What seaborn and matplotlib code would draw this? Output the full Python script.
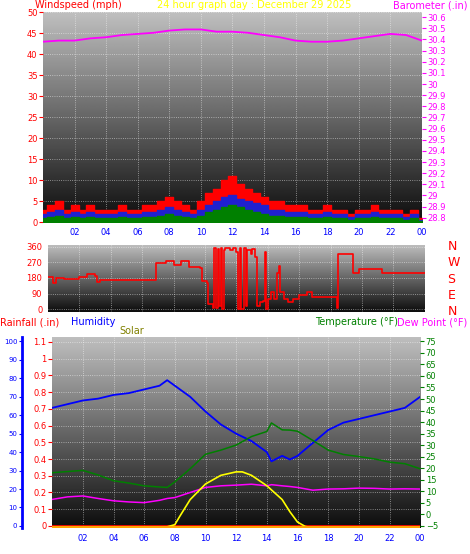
import numpy as np
import pandas as pd
import matplotlib
matplotlib.use("Agg")
import matplotlib.pyplot as plt
import seaborn as sns

sns.set_style("white")
plt.rcParams['font.family'] = ['DejaVu Sans']

hour_ticks = [2, 4, 6, 8, 10, 12, 14, 16, 18, 20, 22, 24]
hour_labels = ["02", "04", "06", "08", "10", "12", "14", "16", "18", "20", "22", "00"]

# Wind speed (mph), half-hour
wind_t = [i * 0.5 for i in range(49)]
gust = [3,4,5,3,4,3,4,3,3,3,4,3,3,4,4,5,6,5,4,3,5,7,8,10,11,9,8,7,6,5,5,4,4,4,3,3,4,3,3,2,3,3,4,3,3,3,2,3,1]
avg = [2,2.5,3,2,2.5,2,2.5,2,2,2,2.5,2,2,2.5,2.5,3,3.5,3,2.5,2,3,4,5,6,6.5,5.5,5,4.5,4,3,3,2.5,2.5,2.5,2,2,2.5,2,2,1.2,2,2,2.5,2,2,2,1.2,2,0.5]
lull = [1,1.2,1.5,1,1.2,1,1.2,1,1,1,1.2,1,1,1.2,1.2,1.5,2,1.5,1.2,1,1.5,2.5,3,3.5,4,3.5,3,2.5,2,1.5,1.5,1.2,1.2,1.2,1,1,1.2,1,1,0.5,1,1,1.2,1,1,1,0.5,1,0.2]

# Barometer (in), hourly
baro_t = list(range(25))
baro = [30.38,30.39,30.39,30.41,30.42,30.44,30.45,30.46,30.48,30.49,30.49,30.47,30.47,30.46,30.44,30.42,30.39,30.38,30.38,30.39,30.41,30.43,30.45,30.44,30.39]

# Wind direction (deg)
dir_t = [0,0.3,0.5,1,2,2.5,3,3.1,3.3,6.8,6.9,7.5,8,8.5,9,9.7,9.8,10.1,10.2,10.5,10.6,10.7,10.8,10.9,11,11.1,11.2,11.3,11.6,11.8,12.0,12.1,12.2,12.3,12.5,12.6,12.7,12.9,13.0,13.2,13.3,13.5,13.7,13.8,13.9,14.0,14.2,14.4,14.6,14.7,14.8,15,15.3,15.6,16,16.5,16.8,18.3,18.4,18.5,19.3,19.4,19.8,21.2,21.3,24]
dir_v = [185,150,180,175,185,200,190,155,170,170,265,280,255,275,245,240,160,150,30,5,350,10,345,20,350,0,340,350,340,350,330,0,350,0,350,20,340,320,345,300,20,40,50,330,0,60,100,60,210,250,100,60,40,60,80,100,70,70,10,320,320,210,230,230,210,210]

# Humidity (%), temperature and dew point (F)
th = [0,1,2,3,4,5,6,7,7.5,8,9,10,11,12,13,14,14.3,15,15.5,16,17,18,19,20,21,22,23,24]
hum = [64,66,68,69,71,72,74,76,79,76,70,62,55,50,46,40,35,38,36,38,45,52,56,58,60,62,64,70]
temp = [18,18.5,19,17,14.5,13.5,12.3,11.8,11.6,14,19.7,26,27.8,30,33.7,35.9,39.6,36.6,36.5,36,32,27.8,25.9,25,24,22.6,21.9,19.7]
dew = [6.4,7.5,7.9,6.8,5.8,5.3,5,6,6.8,7.2,9.4,11.6,12.3,12.6,13,12.3,12.8,12.3,12,11.6,10.4,10.9,11,11.3,11.2,10.9,11,10.9]
solar_t = [0,7.4,7.8,8,8.3,9,10,11,12,12.4,13,14,15,15.5,16,16.5,16.8,24]
solar = [0,0,10,15,60,160,250,300,320,320,300,240,160,90,30,5,0,0]
rain_t = [0, 24]
rain = [0, 0]

fig = plt.figure(figsize=(4.7, 5.54), dpi=100)
fig.patch.set_facecolor("white")
grad = np.linspace(0.75, 0.05, 256).reshape(-1, 1)

def bg(ax):
    ax.imshow(grad, cmap="gray", vmin=0, vmax=1, aspect="auto",
              extent=[0, 1, 0, 1], transform=ax.transAxes, zorder=0)
    ax.grid(True, color="white", linestyle=":", linewidth=0.6, alpha=0.6)
    for s in ax.spines.values():
        s.set_visible(False)

tick_kw = dict(labelsize=6, length=3, pad=1)

# Panel 1
ax1 = fig.add_axes([0.0915, 0.599, 0.806, 0.379])
bg(ax1)
ax1.fill_between(wind_t, gust, step="mid", color="red", zorder=2)
ax1.fill_between(wind_t, avg, step="mid", color="#2020d0", zorder=3)
ax1.fill_between(wind_t, lull, step="mid", color="green", zorder=4)
ax1.set_xlim(0, 24); ax1.set_ylim(0, 50)
ax1.set_yticks(range(0, 51, 5))
ax1.tick_params(axis="y", colors="red", **tick_kw)
ax1.set_xticks(hour_ticks); ax1.set_xticklabels(hour_labels)
ax1.tick_params(axis="x", colors="blue", **tick_kw)
ax1b = ax1.twinx()
sns.lineplot(x=baro_t, y=baro, ax=ax1b, color="magenta", linewidth=1.3)
ax1b.set_ylim(28.76, 30.645)
ax1b.set_yticks(np.round(np.arange(28.8, 30.61, 0.1), 1))
ax1b.set_yticklabels([f"{v:g}" for v in np.round(np.arange(28.8, 30.61, 0.1), 1)])
ax1b.tick_params(axis="y", colors="magenta", **tick_kw)
for s in ax1b.spines.values():
    s.set_visible(False)
ax1.set_zorder(ax1b.get_zorder() - 1); ax1.patch.set_visible(False)

fig.text(0.075, 1.0, "Windspeed (mph)", color="red", fontsize=7, va="top")
fig.text(0.54, 1.0, "24 hour graph day : December 29 2025", color="yellow", fontsize=7, va="top", ha="center")
fig.text(0.995, 1.0, "Barometer (.in)", color="magenta", fontsize=7, va="top", ha="right")

# Panel 2
ax2 = fig.add_axes([0.102, 0.437, 0.802, 0.121])
bg(ax2)
ax2.plot(dir_t, dir_v, color="red", linewidth=1.2, zorder=3, drawstyle="steps-post")
ax2.set_xlim(0, 24); ax2.set_ylim(-15, 370)
ax2.set_yticks([0, 90, 180, 270, 360])
ax2.set_xticks(hour_ticks); ax2.set_xticklabels([])
ax2.tick_params(axis="y", colors="red", **tick_kw)
ax2.tick_params(axis="x", length=0)
for lab, v in zip(["N", "W", "S", "E", "N"], [0.98, 0.73, 0.49, 0.25, 0.0]):
    ax2.text(1.06, v, lab, transform=ax2.transAxes, color="red", fontsize=9, va="center")

# Panel 3
ax3 = fig.add_axes([0.111, 0.047, 0.783, 0.345])
bg(ax3)
ax3.plot(rain_t, rain, color="red", linewidth=2, zorder=5)
ax3.set_xlim(0, 24); ax3.set_ylim(-0.012, 1.13)
ax3.set_yticks(np.round(np.arange(0, 1.11, 0.1), 1))
ax3.set_yticklabels([f"{v:g}" for v in np.round(np.arange(0, 1.11, 0.1), 1)])
ax3.tick_params(axis="y", colors="red", **tick_kw)
ax3.set_xticks(hour_ticks); ax3.set_xticklabels(hour_labels)
ax3.tick_params(axis="x", colors="blue", **tick_kw)

axh = ax3.twinx()
axh.yaxis.set_ticks_position("left"); axh.yaxis.set_label_position("left")
axh.spines["left"].set_position(("outward", 22))
for k, s in axh.spines.items():
    s.set_visible(k == "left")
axh.spines["left"].set_color("blue"); axh.spines["left"].set_linewidth(2)
sns.lineplot(x=th, y=hum, ax=axh, color="blue", linewidth=1.3)
axh.set_ylim(-1.1, 102.5)
axh.set_yticks(range(0, 101, 10))
axh.tick_params(axis="y", colors="blue", labelsize=5, length=2, pad=1)

axt = ax3.twinx()
for s in axt.spines.values():
    s.set_visible(False)
sns.lineplot(x=th, y=temp, ax=axt, color="green", linewidth=1.1)
sns.lineplot(x=th, y=dew, ax=axt, color="magenta", linewidth=1.1)
axt.set_ylim(-6, 77)
axt.set_yticks(range(-5, 76, 5))
axt.tick_params(axis="y", colors="green", **tick_kw)

axs = ax3.twinx()
axs.axis("off")
sns.lineplot(x=solar_t, y=solar, ax=axs, color="yellow", linewidth=1.2)
axs.plot([0, 24], [0, 0], color="orange", linewidth=1.5)
axs.set_ylim(-4, 1100)
axs.set_xlim(0, 24)
for a in (axh, axt):
    a.set_xlim(0, 24)
ax3.set_zorder(axh.get_zorder() - 1); ax3.patch.set_visible(False)

fig.text(0.0, 0.418, "Rainfall (.in)", color="red", fontsize=7, va="center")
fig.text(0.15, 0.418, "Humidity", color="blue", fontsize=7, va="center")
fig.text(0.255, 0.402, "Solar", color="olive", fontsize=7, va="center")
fig.text(0.67, 0.418, "Temperature (°F)", color="green", fontsize=7, va="center")
fig.text(0.995, 0.418, "Dew Point (°F)", color="magenta", fontsize=7, va="center", ha="right")

fig.savefig("out.png", dpi=100, facecolor="white")
